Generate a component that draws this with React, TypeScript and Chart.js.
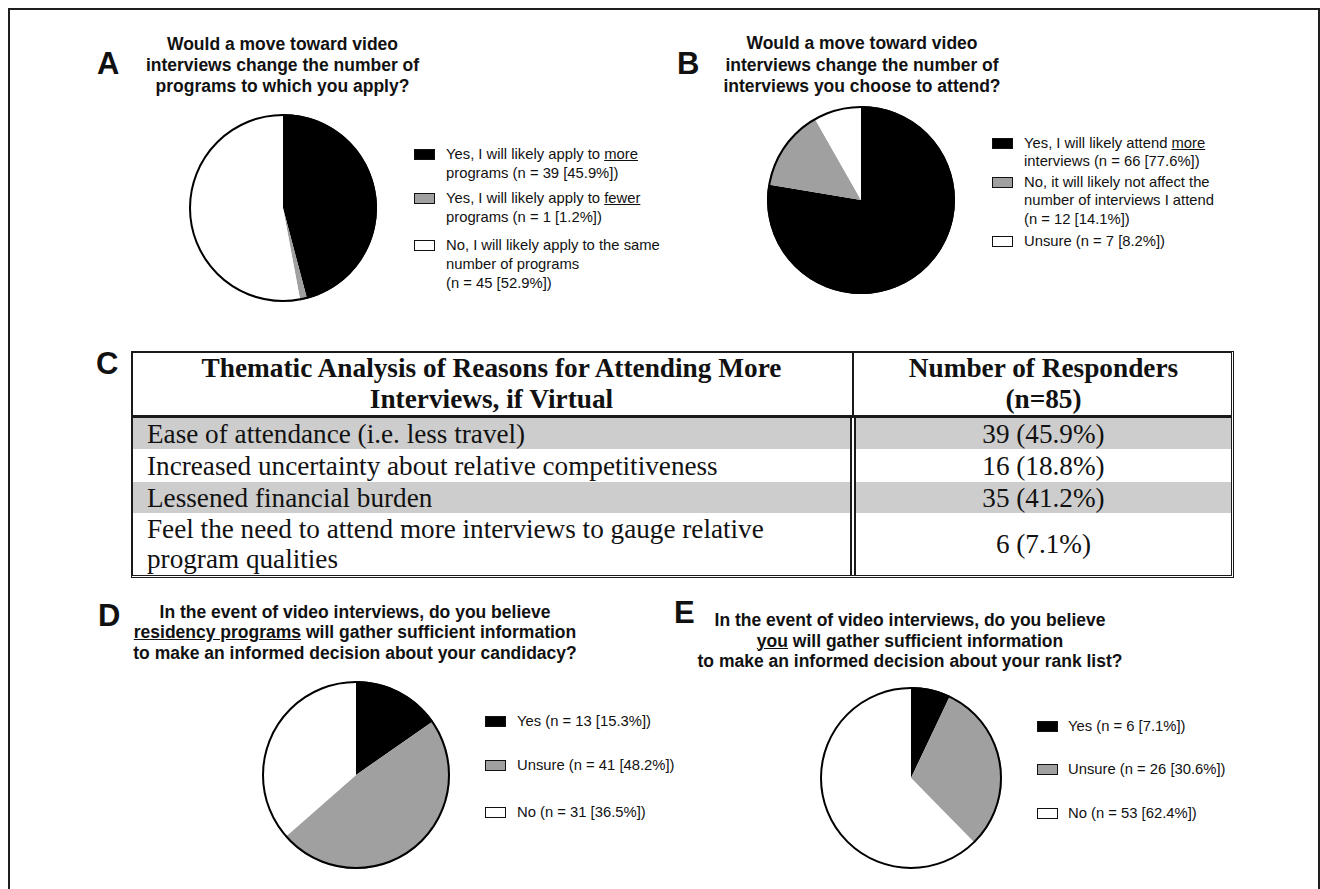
import React, { useEffect, useRef } from "react";
import { Chart, registerables } from "chart.js";

Chart.register(...registerables);

// ---------------- data ----------------
const sliceColors = ["#000000", "#a0a0a0", "#ffffff"];

// Panel A
const aTitle = ["Would a move toward video", "interviews change the number of", "programs to which you apply?"];
const aCategories = ["Apply to more", "Apply to fewer", "Apply to same"];
const aCounts = [39, 1, 45];
const aPercents = [45.9, 1.2, 52.9];
const aLegend = [
  ["Yes, I will likely apply to _more_", "programs"],
  ["Yes, I will likely apply to _fewer_", "programs"],
  ["No, I will likely apply to the same", "number of programs", ""],
];

// Panel B
const bTitle = ["Would a move toward video", "interviews change the number of", "interviews you choose to attend?"];
const bCategories = ["Attend more", "Not affect", "Unsure"];
const bCounts = [66, 12, 7];
const bPercents = [77.6, 14.1, 8.2];
const bLegend = [
  ["Yes, I will likely attend _more_", "interviews"],
  ["No, it will likely not affect the", "number of interviews I attend", ""],
  ["Unsure"],
];

// Panel C (table)
const cHeaderReason = ["Thematic Analysis of Reasons for Attending More", "Interviews, if Virtual"];
const cHeaderCount = ["Number of Responders", "(n=85)"];
const cReasons = [
  ["Ease of attendance (i.e. less travel)"],
  ["Increased uncertainty about relative competitiveness"],
  ["Lessened financial burden"],
  ["Feel the need to attend more interviews to gauge relative", "program qualities"],
];
const cCounts = [39, 16, 35, 6];
const cPercents = [45.9, 18.8, 41.2, 7.1];

// Panel D
const dTitle = [
  "In the event of video interviews, do you believe",
  "_residency programs_ will gather sufficient information",
  "to make an informed decision about your candidacy?",
];
const dCategories = ["Yes", "Unsure", "No"];
const dCounts = [13, 41, 31];
const dPercents = [15.3, 48.2, 36.5];
const dLegend = [["Yes"], ["Unsure"], ["No"]];

// Panel E
const eTitle = [
  "In the event of video interviews, do you believe",
  "_you_ will gather sufficient information",
  "to make an informed decision about your rank list?",
];
const eCategories = ["Yes", "Unsure", "No"];
const eCounts = [6, 26, 53];
const ePercents = [7.1, 30.6, 62.4];
const eLegend = [["Yes"], ["Unsure"], ["No"]];

// ---------------- styling ----------------
const SANS = '"Liberation Sans", Arial, Helvetica, sans-serif';
const SERIF = '"Liberation Serif", "Times New Roman", Times, serif';
const INK = "#111";

function rich(text: string) {
  const parts = text.split("_");
  return parts.map((p, i) => (i % 2 === 1 ? <u key={i}>{p}</u> : <span key={i}>{p}</span>));
}

const outlinePlugin = {
  id: "outerOutline",
  afterDatasetsDraw(chart: any) {
    const meta = chart.getDatasetMeta(0);
    const arc = meta && meta.data && meta.data[0];
    if (!arc) return;
    const { x, y, outerRadius } = arc.getProps(["x", "y", "outerRadius"], true);
    const ctx = chart.ctx;
    ctx.save();
    ctx.beginPath();
    ctx.arc(x, y, outerRadius - 1, 0, Math.PI * 2);
    ctx.lineWidth = 2;
    ctx.strokeStyle = "#000";
    ctx.stroke();
    ctx.restore();
  },
};

function Pie({ labels, counts, cx, cy, r }: { labels: string[]; counts: number[]; cx: number; cy: number; r: number }) {
  const ref = useRef<HTMLCanvasElement>(null);
  const pad = 4;
  useEffect(() => {
    const chart = new Chart(ref.current as HTMLCanvasElement, {
      type: "pie",
      data: {
        labels,
        datasets: [
          {
            data: counts,
            backgroundColor: sliceColors,
            borderWidth: 0,
            hoverOffset: 0,
            offset: 0,
          },
        ],
      },
      options: {
        responsive: true,
        maintainAspectRatio: false,
        animation: false,
        events: [],
        layout: { padding: pad },
        plugins: { legend: { display: false }, tooltip: { enabled: false } },
      },
      plugins: [outlinePlugin],
    } as any);
    return () => chart.destroy();
  }, []);
  const size = 2 * (r + pad);
  return (
    <div style={{ position: "absolute", left: cx - r - pad, top: cy - r - pad, width: size, height: size }}>
      <canvas ref={ref} />
    </div>
  );
}

function Letter({ ch, left, top }: { ch: string; left: number; top: number }) {
  return (
    <div style={{ position: "absolute", left, top, fontSize: 31, fontWeight: "bold", lineHeight: "30px" }}>{ch}</div>
  );
}

function Title({ lines, cx, top, lh }: { lines: string[]; cx: number; top: number; lh: number }) {
  return (
    <div
      style={{
        position: "absolute",
        left: cx - 300,
        width: 600,
        top,
        textAlign: "center",
        fontWeight: "bold",
        fontSize: 17.5,
        lineHeight: lh + "px",
        whiteSpace: "nowrap",
      }}
    >
      {lines.map((l, i) => (
        <div key={i}>{rich(l)}</div>
      ))}
    </div>
  );
}

function Legend({
  items,
  counts,
  percents,
  boxLeft,
  textLeft,
  centers,
  lh,
}: {
  items: string[][];
  counts: number[];
  percents: number[];
  boxLeft: number;
  textLeft: number;
  centers: number[];
  lh: number;
}) {
  return (
    <>
      {items.map((lines, i) => {
        const full = [...lines];
        const tag = `(n = ${counts[i]} [${percents[i].toFixed(1)}%])`;
        const last = full[full.length - 1];
        full[full.length - 1] = last ? last + " " + tag : tag;
        return (
          <React.Fragment key={i}>
            <div
              style={{
                position: "absolute",
                left: boxLeft,
                top: centers[i] - 5.5,
                width: 21,
                height: 11,
                boxSizing: "border-box",
                border: "1.5px solid #111",
                background: sliceColors[i],
              }}
            />
            <div
              style={{
                position: "absolute",
                left: textLeft,
                top: centers[i] - lh / 2,
                fontSize: 14.8,
                lineHeight: lh + "px",
                whiteSpace: "nowrap",
              }}
            >
              {full.map((l, j) => (
                <div key={j}>{rich(l)}</div>
              ))}
            </div>
          </React.Fragment>
        );
      })}
    </>
  );
}

function Table() {
  const L = 131, T = 351, R = 1234, B = 578;
  const colA = 850, colB = 856;
  const headBottom = 415;
  const rows = [
    [418, 449],
    [449, 482],
    [482, 513],
    [513, 575],
  ];
  const gray = "#cdcdcd";
  const cellText = (lines: string[]) => lines.map((l, i) => <div key={i}>{l}</div>);
  const headStyle: any = {
    position: "absolute",
    top: T + 2,
    height: headBottom - T - 2,
    display: "flex",
    flexDirection: "column",
    justifyContent: "center",
    alignItems: "center",
    fontWeight: "bold",
    fontSize: 27.3,
    lineHeight: "31.5px",
    whiteSpace: "nowrap",
  };
  return (
    <div style={{ fontFamily: SERIF, color: INK }}>
      {rows.map(([y0, y1], i) =>
        i % 2 === 0 ? (
          <React.Fragment key={"g" + i}>
            <div style={{ position: "absolute", left: L + 2, top: y0, width: colA - L - 2, height: y1 - y0, background: gray }} />
            <div style={{ position: "absolute", left: colB, top: y0, width: R - 3 - colB, height: y1 - y0, background: gray }} />
          </React.Fragment>
        ) : null
      )}
      <div
        style={{
          position: "absolute",
          left: L,
          top: T,
          width: R - L,
          height: B - T,
          boxSizing: "border-box",
          borderTop: "2px solid #1a1a1a",
          borderLeft: "2px solid #1a1a1a",
          borderRight: "3px double #1a1a1a",
          borderBottom: "3px double #1a1a1a",
        }}
      />
      <div style={{ position: "absolute", left: L + 2, top: headBottom, width: R - L - 5, height: 3, background: "#1a1a1a" }} />
      <div style={{ position: "absolute", left: 852, top: T + 2, width: 2, height: headBottom - T - 2, background: "#1a1a1a" }} />
      <div style={{ position: "absolute", left: colA, top: headBottom + 3, width: 2, height: 575 - headBottom - 3, background: "#1a1a1a" }} />
      <div style={{ position: "absolute", left: colB - 2, top: headBottom + 3, width: 2, height: 575 - headBottom - 3, background: "#1a1a1a" }} />

      <div style={{ ...headStyle, left: L + 2, width: colA - L - 2 }}>{cellText(cHeaderReason)}</div>
      <div style={{ ...headStyle, left: colB, width: R - 3 - colB }}>{cellText(cHeaderCount)}</div>

      {rows.map(([y0, y1], i) => (
        <React.Fragment key={"r" + i}>
          <div
            style={{
              position: "absolute",
              left: 147,
              top: y0,
              width: colA - 147,
              height: y1 - y0,
              display: "flex",
              flexDirection: "column",
              justifyContent: "center",
              fontSize: 27.2,
              lineHeight: "30px",
              whiteSpace: "nowrap",
            }}
          >
            {cellText(cReasons[i])}
          </div>
          <div
            style={{
              position: "absolute",
              left: colB,
              top: y0,
              width: R - 3 - colB,
              height: y1 - y0,
              display: "flex",
              flexDirection: "column",
              justifyContent: "center",
              alignItems: "center",
              fontSize: 27.2,
              lineHeight: "30px",
              whiteSpace: "nowrap",
            }}
          >
            {`${cCounts[i]} (${cPercents[i].toFixed(1)}%)`}
          </div>
        </React.Fragment>
      ))}
    </div>
  );
}

export default function App() {
  return (
    <div
      style={{
        position: "absolute",
        left: 0,
        top: 0,
        width: 1320,
        height: 889,
        overflow: "hidden",
        background: "#fff",
        fontFamily: SANS,
        color: INK,
      }}
    >
      <div
        style={{
          position: "absolute",
          left: 8,
          top: 8,
          width: 1312,
          height: 900,
          boxSizing: "border-box",
          borderTop: "2px solid #1e1e1e",
          borderLeft: "2px solid #1e1e1e",
          borderRight: "2px solid #1e1e1e",
        }}
      />

      {/* Panel A */}
      <Letter ch="A" left={97} top={48.5} />
      <Title lines={aTitle} cx={282.5} top={33.5} lh={21} />
      <Pie labels={aCategories} counts={aCounts} cx={283} cy={207.5} r={94} />
      <Legend items={aLegend} counts={aCounts} percents={aPercents} boxLeft={414} textLeft={446} centers={[154, 198, 245]} lh={19} />

      {/* Panel B */}
      <Letter ch="B" left={677} top={48.5} />
      <Title lines={bTitle} cx={862} top={33} lh={21.5} />
      <Pie labels={bCategories} counts={bCounts} cx={861} cy={200} r={94} />
      <Legend items={bLegend} counts={bCounts} percents={bPercents} boxLeft={992} textLeft={1024} centers={[143, 182, 241]} lh={18.7} />

      {/* Panel C */}
      <Letter ch="C" left={96} top={349} />
      <Table />

      {/* Panel D */}
      <Letter ch="D" left={98} top={600.5} />
      <Title lines={dTitle} cx={355} top={601.5} lh={20.7} />
      <Pie labels={dCategories} counts={dCounts} cx={356} cy={775} r={94} />
      <Legend items={dLegend} counts={dCounts} percents={dPercents} boxLeft={485} textLeft={517} centers={[721, 765, 812]} lh={19} />

      {/* Panel E */}
      <Letter ch="E" left={674} top={597.5} />
      <Title lines={eTitle} cx={910} top={610} lh={20.5} />
      <Pie labels={eCategories} counts={eCounts} cx={911} cy={778} r={91} />
      <Legend items={eLegend} counts={eCounts} percents={ePercents} boxLeft={1037} textLeft={1068} centers={[726, 769, 813]} lh={19} />
    </div>
  );
}
